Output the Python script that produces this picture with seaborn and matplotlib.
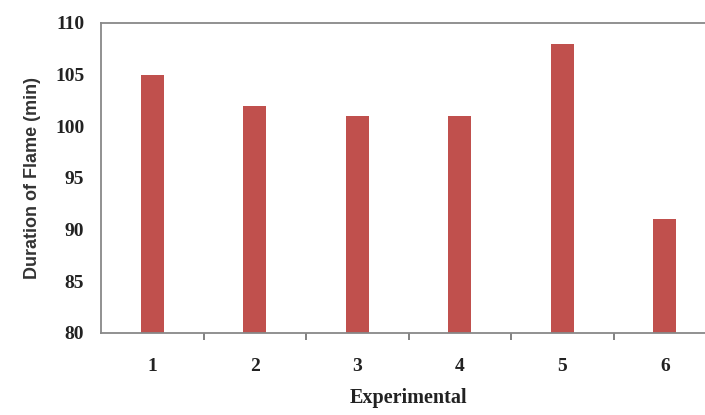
import matplotlib
matplotlib.use("Agg")
import matplotlib.pyplot as plt
import seaborn as sns
import pandas as pd
from matplotlib.ticker import FixedLocator

experiments = ["1", "2", "3", "4", "5", "6"]
duration = [105, 102, 101, 101, 108, 91]
y_ticks = [80, 85, 90, 95, 100, 105, 110]

df = pd.DataFrame({"Experimental": experiments, "Duration": duration})

sns.set_style("white")
fig = plt.figure(figsize=(7.05, 4.15), dpi=100)
ax = fig.add_axes([101/705, 1-333/415, 615/705, 310/415])

sns.barplot(data=df, x="Experimental", y="Duration", color="#C0504D",
            width=0.22, saturation=1, ax=ax, linewidth=0)

ax.set_ylim(80, 110)
ax.set_xlim(-0.5, 5.5)
ax.set_yticks(y_ticks)
ax.set_yticklabels([str(v) for v in y_ticks], fontfamily="Liberation Serif",
                   fontweight="bold", fontsize=14)
ax.set_xticklabels(experiments, fontfamily="Liberation Serif",
                   fontweight="bold", fontsize=14)
ax.tick_params(axis="y", length=0, pad=12, colors="#222222")
ax.tick_params(axis="x", which="major", bottom=True, length=0, pad=18,
               colors="#222222")
ax.xaxis.set_minor_locator(FixedLocator([0.5, 1.5, 2.5, 3.5, 4.5]))
ax.tick_params(axis="x", which="minor", bottom=True, length=5, width=1.3,
               color="#777777", direction="out")

for s in ["left", "top", "bottom", "right"]:
    ax.spines[s].set_color("#888888")
    ax.spines[s].set_linewidth(1.3)

ax.set_xlabel("Experimental", fontfamily="Liberation Serif", fontweight="bold",
              fontsize=14.5, labelpad=9, color="#222222")
ax.set_ylabel("Duration of Flame (min)", fontfamily="Liberation Sans",
              fontweight="bold", fontsize=13, labelpad=10, color="#333333")

fig.savefig("out.png", dpi=100)
